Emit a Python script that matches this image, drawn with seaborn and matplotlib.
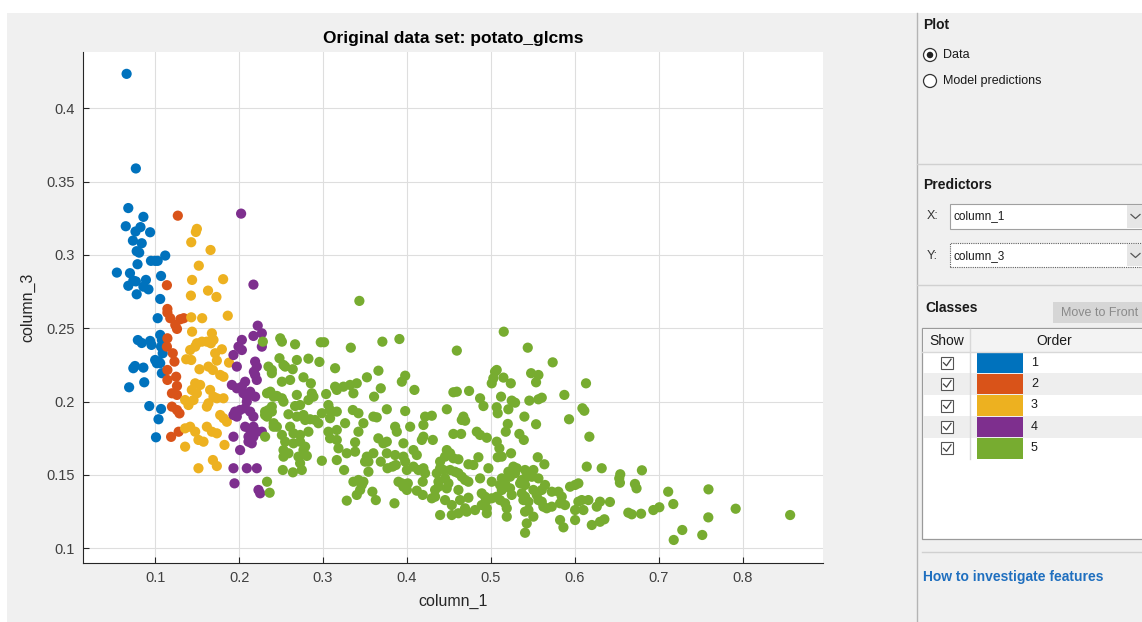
import matplotlib
matplotlib.use("Agg")
import matplotlib.pyplot as plt
from matplotlib.patches import Rectangle, Ellipse
from matplotlib.lines import Line2D
import seaborn as sns
import pandas as pd

# ---------------- data ----------------
class_labels = ["1", "2", "3", "4", "5"]
class_colors = ["#0072BD", "#D95319", "#EDB120", "#7E2F8E", "#77AC30"]

class1 = [(0.066,0.4235),(0.077,0.359),(0.068,0.332),(0.086,0.326),(0.065,0.3196),(0.0825,0.319),
          (0.0766,0.316),(0.094,0.3155),(0.0735,0.3098),(0.084,0.308),(0.078,0.3026),(0.081,0.3016),
          (0.112,0.2996),(0.095,0.296),(0.100,0.296),(0.103,0.296),(0.079,0.2937),(0.0544,0.288),
          (0.070,0.2876),(0.107,0.2857),(0.074,0.2825),(0.077,0.282),(0.089,0.283),(0.068,0.279),
          (0.086,0.2784),(0.092,0.2766),(0.078,0.2732),(0.106,0.270),(0.103,0.2569),(0.0794,0.242),
          (0.084,0.240),(0.094,0.2414),(0.0956,0.2387),(0.106,0.2455),(0.108,0.242),(0.107,0.2375),
          (0.109,0.233),(0.100,0.2284),(0.104,0.2273),(0.106,0.2262),(0.102,0.2262),(0.074,0.2228),
          (0.076,0.2243),(0.086,0.2232),(0.108,0.2194),(0.087,0.2132),(0.069,0.2098),(0.093,0.197),
          (0.107,0.195),(0.104,0.188),(0.101,0.1757)]

class2 = [(0.127,0.3268),(0.114,0.2794),(0.1146,0.2632),(0.1146,0.2607),(0.118,0.2569),(0.124,0.2523),
          (0.126,0.2496),(0.130,0.2562),(0.134,0.2569),(0.1146,0.2432),(0.114,0.2375),(0.121,0.233),
          (0.123,0.2273),(0.1146,0.2216),(0.125,0.217),(0.1146,0.2148),(0.126,0.2107),(0.120,0.2057),
          (0.126,0.2046),(0.120,0.1966),(0.126,0.1943),(0.129,0.192),(0.119,0.176),(0.128,0.1795)]

class3 = [(0.1497,0.3178),(0.1485,0.3157),(0.143,0.3087),(0.166,0.3034),(0.152,0.2927),(0.144,0.283),
          (0.181,0.2835),(0.163,0.2757),(0.1426,0.2723),(0.173,0.2714),(0.143,0.2575),(0.156,0.2569),
          (0.1865,0.2586),(0.144,0.2477),(0.1676,0.2466),(0.1497,0.2398),(0.1557,0.2409),(0.1616,0.2409),
          (0.1664,0.2398),(0.1695,0.2421),(0.1417,0.2352),(0.1477,0.2375),(0.1795,0.2357),(0.1715,0.233),
          (0.137,0.2289),(0.143,0.2284),(0.1735,0.228),(0.188,0.2266),(0.1635,0.2239),(0.1688,0.2216),
          (0.1528,0.2221),(0.1775,0.2182),(0.1814,0.217),(0.1477,0.2125),(0.1536,0.2114),(0.1655,0.208),
          (0.1695,0.2034),(0.1735,0.2023),(0.1437,0.208),(0.1497,0.2057),(0.1357,0.2011),(0.1397,0.1977),
          (0.1457,0.2011),(0.1635,0.1989),(0.1616,0.1966),(0.1814,0.2023),(0.1775,0.1909),(0.1814,0.1887),
          (0.1854,0.1863),(0.1357,0.1818),(0.1417,0.1829),(0.1477,0.1795),(0.1616,0.1829),(0.1676,0.1795),
          (0.1735,0.1784),(0.1516,0.1739),(0.1576,0.1727),(0.1357,0.1693),(0.1826,0.1705),(0.1688,0.1602),
          (0.1516,0.1546),(0.1735,0.1561)]

class4 = [(0.2024,0.3282),(0.2171,0.2798),(0.2222,0.2518),(0.2171,0.2448),(0.2271,0.2466),(0.2033,0.2421),
          (0.1993,0.2375),(0.2033,0.2352),(0.2271,0.2375),(0.1933,0.2318),(0.2191,0.2273),(0.2211,0.2239),
          (0.1973,0.2239),(0.2176,0.2204),(0.2191,0.2182),(0.2211,0.2148),(0.1914,0.2114),(0.1973,0.2091),
          (0.2033,0.2102),(0.2072,0.2136),(0.2052,0.2057),(0.2092,0.2034),(0.2132,0.2068),(0.2191,0.2034),
          (0.1953,0.1932),(0.2012,0.1943),(0.2072,0.1955),(0.1933,0.1909),(0.1973,0.1898),(0.2132,0.1932),
          (0.2171,0.1898),(0.2092,0.2000),(0.2072,0.1829),(0.2132,0.1807),(0.2171,0.1829),(0.2211,0.1795),
          (0.2271,0.1795),(0.2112,0.1761),(0.2171,0.1761),(0.1933,0.1761),(0.2112,0.1727),(0.2012,0.1670),
          (0.1933,0.1546),(0.2092,0.1546),(0.2211,0.1546),(0.1945,0.1443),(0.2231,0.1398),(0.2251,0.1375),
          (0.2151,0.1716)]

class5 = [(0.2283,0.2409),(0.235,0.2239),(0.239,0.2216),(0.2333,0.2057),(0.2373,0.2068),(0.2412,0.2034),
          (0.239,0.1966),(0.235,0.1943),(0.231,0.1909),(0.2412,0.1829),(0.231,0.1761),(0.2333,0.1454),
          (0.2364,0.1379),
          (0.3433,0.2687),(0.249,0.2432),(0.251,0.2409),(0.2667,0.2391),(0.2973,0.2405),(0.3013,0.2405),
          (0.3331,0.2368),(0.3707,0.2409),(0.391,0.2427),(0.2481,0.2296),(0.2529,0.225),(0.2549,0.2239),
          (0.2688,0.2284),(0.2826,0.2293),(0.2957,0.2271),(0.2639,0.2221),(0.239,0.2194),(0.3144,0.2228),
          (0.366,0.2211),(0.2767,0.2166),(0.251,0.2136),(0.2608,0.2148),(0.3523,0.2166),(0.3979,0.2177),
          (0.3939,0.2136),(0.2855,0.2125),(0.3144,0.2102),(0.3164,0.208),(0.3243,0.2102),(0.3322,0.2114),
          (0.3402,0.2125),(0.3688,0.2091),(0.4089,0.208),(0.245,0.2039),(0.251,0.2023),(0.2529,0.200),
          (0.2688,0.2046),(0.2867,0.2057),(0.2886,0.2034),(0.2826,0.2011),(0.3037,0.2052),(0.3362,0.2057),
          (0.3608,0.2034),(0.231,0.1932),(0.239,0.1932),(0.2667,0.197),(0.2727,0.1977),(0.3064,0.1977),
          (0.3084,0.1943),(0.3164,0.1932),(0.3355,0.1943),(0.3422,0.1921),(0.376,0.1948),(0.3979,0.1936),
          (0.2333,0.1898),(0.2412,0.1853),(0.245,0.1829),(0.2588,0.1914),(0.2688,0.1898),(0.2767,0.1909),
          (0.2787,0.1875),(0.2846,0.188),(0.2906,0.1875),(0.2945,0.1853),(0.2986,0.1921),(0.3084,0.1887),
          (0.3263,0.1853),(0.3481,0.1853),(0.36,0.1898),(0.364,0.1893),(0.4216,0.1898),(0.4196,0.1841),
          (0.2608,0.1829),(0.2648,0.1784),(0.2727,0.1773),(0.2826,0.1795),(0.3064,0.1795),(0.3164,0.1807),
          (0.3422,0.1795),(0.3859,0.1829),(0.3879,0.1795),(0.4038,0.1829),(0.251,0.1773),(0.3084,0.175),
          (0.3164,0.1739),(0.3659,0.175),(0.3719,0.1716),(0.376,0.1727),(0.4196,0.1761),(0.4177,0.1739),
          (0.3958,0.1716),(0.2549,0.1727),(0.2648,0.1716),(0.2727,0.1727),(0.2787,0.1693),(0.3382,0.1723),
          (0.2529,0.167),(0.2588,0.1648),(0.2767,0.167),(0.3184,0.1682),(0.3283,0.1648),(0.3382,0.1659),
          (0.36,0.1648),(0.376,0.1648),(0.4077,0.167),(0.2529,0.1625),(0.2707,0.1625),(0.2807,0.163),
          (0.3522,0.1625),(0.3859,0.1636),(0.3958,0.1625),(0.4117,0.1636),
          (0.2727,0.158),(0.2747,0.1534),(0.2521,0.1534),(0.2641,0.1518),(0.2986,0.1597),(0.3164,0.1602),
          (0.3501,0.1591),(0.3541,0.1591),(0.3251,0.1534),(0.3541,0.1522),(0.3362,0.1454),(0.3422,0.1466),
          (0.3462,0.1432),(0.3481,0.1454),(0.3442,0.1398),(0.3402,0.1364),(0.3588,0.1386),(0.3629,0.1329),
          (0.3283,0.1325),(0.3688,0.1591),(0.3768,0.1546),(0.3828,0.1557),(0.3867,0.1568),(0.3979,0.1591),
          (0.3999,0.1534),(0.3899,0.1454),(0.3939,0.1443),(0.3958,0.142),(0.3999,0.1398),(0.4077,0.1557),
          (0.4136,0.1534),(0.4196,0.1546),(0.4216,0.1512),(0.401,0.1443),(0.4117,0.1393),(0.4188,0.1364),
          (0.3851,0.1307),(0.4188,0.1454),
          (0.5153,0.2477),(0.4594,0.2348),(0.5439,0.2368),(0.5736,0.2268),(0.5049,0.2204),(0.5069,0.2216),
          (0.5029,0.2159),(0.501,0.2125),(0.5149,0.2164),(0.5237,0.2125),(0.5479,0.2194),(0.5566,0.2182),
          (0.5538,0.2132),(0.6133,0.2125),(0.4553,0.2064),(0.4594,0.2068),(0.474,0.2073),(0.4871,0.2023),
          (0.4911,0.197),(0.5121,0.2034),(0.5248,0.2007),(0.5288,0.1993),(0.5458,0.2007),(0.5566,0.2016),
          (0.5606,0.2027),(0.5875,0.2046),(0.609,0.1955),(0.6113,0.1938),(0.4475,0.1948),(0.5069,0.1962),
          (0.5081,0.1921),(0.5208,0.1948),(0.5399,0.1898),(0.5931,0.188),(0.4296,0.1904),(0.4672,0.1898),
          (0.4693,0.187),(0.4653,0.1875),(0.5201,0.1848),(0.5538,0.1846),(0.4553,0.178),(0.4645,0.178),
          (0.4832,0.1795),(0.4871,0.1773),(0.4951,0.1754),(0.5177,0.1795),(0.5339,0.178),(0.6173,0.1761),
          (0.4308,0.1739),(0.5392,0.1739),
          (0.507,0.1727),(0.5101,0.1682),(0.524,0.1648),(0.4475,0.167),(0.4514,0.1648),(0.4454,0.1625),
          (0.4553,0.1614),(0.4613,0.1607),(0.4395,0.1591),(0.4395,0.1546),(0.4434,0.1534),(0.4851,0.1621),
          (0.5081,0.1621),(0.5129,0.1625),(0.4732,0.1573),(0.4791,0.1568),(0.5558,0.1621),(0.5637,0.1573),
          (0.497,0.1546),(0.6142,0.1557),(0.632,0.1546),(0.5208,0.1522),(0.5268,0.1557),(0.5308,0.1546),
          (0.5288,0.1512),(0.5228,0.1488),(0.5407,0.1534),(0.5447,0.1512),(0.5506,0.1534),(0.5487,0.1488),
          (0.5407,0.1477),(0.5368,0.1466),(0.5348,0.1443),(0.5407,0.1432),(0.5566,0.1477),(0.4514,0.1534),
          (0.4573,0.1522),(0.4613,0.1512),(0.4653,0.1488),(0.4692,0.1466),(0.4732,0.1454),(0.4355,0.1512),
          (0.4375,0.1454),(0.4454,0.1477),(0.4494,0.1443),(0.4375,0.142),(0.4474,0.1409),(0.4335,0.1398),
          (0.4335,0.1352),(0.4296,0.1341),(0.4613,0.1398),(0.4633,0.1329),(0.4534,0.1295),(0.4454,0.1329),
          (0.4871,0.1477),(0.501,0.1454),(0.513,0.1477),(0.5109,0.1432),(0.5169,0.1443),(0.5228,0.1409),
          (0.5248,0.1364),(0.513,0.1398),(0.5645,0.1432),(0.5606,0.1398),(0.5368,0.1375),(0.5407,0.1352),
          (0.5387,0.1329),(0.5447,0.1318),(0.5506,0.1398),(0.5546,0.1364),(0.5566,0.1329),(0.5606,0.1318),
          (0.5725,0.1386),(0.5804,0.1386),(0.5844,0.1352),(0.5824,0.1307),(0.5943,0.142),(0.6003,0.1432),
          (0.6042,0.1443),(0.4891,0.1375),(0.4931,0.1352),(0.4951,0.1329),(0.501,0.1341),(0.507,0.1352),
          (0.5109,0.1329),(0.5169,0.1307),(0.5189,0.1273),(0.4732,0.1345),(0.4891,0.1295),(0.4951,0.1273),
          (0.4811,0.1261),(0.4692,0.1273),(0.4712,0.125),(0.4613,0.1239),(0.4534,0.1227),(0.4395,0.1227),
          (0.4951,0.1239),(0.5189,0.1216),(0.5407,0.125),(0.5447,0.1261),(0.5506,0.1216),(0.5625,0.1284),
          (0.5665,0.1273),(0.5725,0.1284),(0.5883,0.1295),(0.6042,0.1318),(0.6082,0.1329),(0.6161,0.1329),
          (0.6003,0.1261),(0.6102,0.1261),(0.630,0.1318),(0.6261,0.1284),(0.5427,0.117),(0.5407,0.1106),
          (0.5824,0.1193),(0.5864,0.1143),(0.6003,0.1193),(0.6202,0.1159),(0.630,0.1181),
          (0.6541,0.1505),(0.6529,0.1477),(0.6537,0.1447),(0.6799,0.1532),(0.6716,0.1439),(0.6735,0.1409),
          (0.7112,0.1386),(0.7592,0.1402),(0.6418,0.1316),(0.6352,0.1198),(0.6637,0.1243),(0.6678,0.1232),
          (0.6789,0.1236),(0.6935,0.1261),(0.7007,0.128),(0.7173,0.1302),(0.759,0.1211),(0.7916,0.127),
          (0.8565,0.1227),(0.728,0.1125),(0.7178,0.1057),(0.7518,0.1091)]

x_ticks = [0.1, 0.2, 0.3, 0.4, 0.5, 0.6, 0.7, 0.8]
y_ticks = [0.1, 0.15, 0.2, 0.25, 0.3, 0.35, 0.4]
x_tick_labels = ["0.1", "0.2", "0.3", "0.4", "0.5", "0.6", "0.7", "0.8"]
y_tick_labels = ["0.1", "0.15", "0.2", "0.25", "0.3", "0.35", "0.4"]
title_text = "Original data set: potato_glcms"
x_label = "column_1"
y_label = "column_3"

# ---------------- build table ----------------
rows = []
for lab, pts in zip(class_labels, [class1, class2, class3, class4, class5]):
    for (xv, yv) in pts:
        rows.append({"column_1": xv, "column_3": yv, "cls": lab})
df = pd.DataFrame(rows)
palette = dict(zip(class_labels, class_colors))

# ---------------- figure ----------------
plt.rcParams['font.family'] = ['Liberation Sans', 'DejaVu Sans']
W, H = 1142, 622
fig = plt.figure(figsize=(W / 100, H / 100), dpi=100, facecolor="white")

def fx(px):
    return px / W

def fy(py):
    return 1 - py / H

PANEL_BG = "#f0f0f0"
fig.add_artist(Rectangle((fx(7), 0), 1 - fx(7), fy(13), transform=fig.transFigure,
                         facecolor=PANEL_BG, edgecolor="none", zorder=-10))

ax = fig.add_axes([fx(83.3), fy(562.7), (823.3 - 83.3) / W, (562.7 - 51.7) / H])
ax.set_facecolor("white")
ax.set_axisbelow(True)
ax.grid(True, color="#dedede", linewidth=0.8)

sns.scatterplot(data=df, x="column_1", y="column_3", hue="cls", palette=palette,
                hue_order=class_labels, s=54, linewidth=0, edgecolor="none",
                legend=False, ax=ax, zorder=3)

ax.set_xlim(0.0144, 0.896)
ax.set_ylim(0.0902, 0.4386)
ax.set_xticks(x_ticks)
ax.set_xticklabels(x_tick_labels)
ax.set_yticks(y_ticks)
ax.set_yticklabels(y_tick_labels)
for side in ["top", "right"]:
    ax.spines[side].set_visible(False)
for side in ["left", "bottom"]:
    ax.spines[side].set_color("#262626")
    ax.spines[side].set_linewidth(0.8)
ax.tick_params(direction="in", length=4, width=0.8, colors="#262626",
               labelsize=10.5, labelcolor="#404040", pad=6)
ax.set_xlabel(x_label, fontsize=11.5, color="#262626", labelpad=6)
ax.set_ylabel(y_label, fontsize=11.5, color="#262626", labelpad=8)
ax.set_title(title_text, fontsize=12.5, fontweight="bold", color="black", pad=6)

# ---------------- right side panel ----------------
def line(x0, y0, x1, y1, color="#c8c8c8", lw=1.0, ls="-"):
    fig.add_artist(Line2D([fx(x0), fx(x1)], [fy(y0), fy(y1)], transform=fig.transFigure,
                          color=color, linewidth=lw, linestyle=ls))

def rect(x0, y0, x1, y1, fc, ec="none", lw=0.8, ls="-"):
    fig.add_artist(Rectangle((fx(x0), fy(y1)), fx(x1) - fx(x0), fy(y0) - fy(y1),
                             transform=fig.transFigure, facecolor=fc, edgecolor=ec,
                             linewidth=lw, linestyle=ls))

def text(px, py, s, **kw):
    kw.setdefault("fontsize", 9)
    kw.setdefault("color", "#1a1a1a")
    kw.setdefault("va", "center")
    fig.text(fx(px), fy(py), s, **kw)

line(917, 13, 917, 622, color="#b4b4b4")

text(923, 25, "Plot", fontweight="bold", fontsize=10)
for cy, lab, sel in [(55, "Data", True), (81, "Model predictions", False)]:
    fig.add_artist(Ellipse((fx(930), fy(cy)), 13 / W, 13 / H, transform=fig.transFigure,
                           facecolor="white", edgecolor="#333333", linewidth=0.9))
    if sel:
        fig.add_artist(Ellipse((fx(930), fy(cy)), 6.5 / W, 6.5 / H, transform=fig.transFigure,
                               facecolor="#222222", edgecolor="none"))
    text(943, cy, lab)

line(917, 164, 1142, 164, color="#d0d0d0")
text(923, 185, "Predictors", fontweight="bold", fontsize=10)
text(927, 216, "X:", color="#333333")
rect(950, 204, 1150, 229, "white", ec="#a0a0a0")
rect(1127, 205, 1150, 228, "#e6e6e6")
text(953, 216.5, "column_1", fontsize=8.5)
text(927, 256, "Y:", color="#333333")
rect(950, 243, 1150, 267, "white", ec="#606060", lw=0.8, ls=(0, (1, 1)))
rect(1127, 244, 1150, 266, "#e6e6e6")
text(953, 256.5, "column_3", fontsize=8.5)
for cy in [216.5, 255.5]:
    fig.add_artist(Line2D([fx(1131), fx(1135.5), fx(1140)], [fy(cy - 2), fy(cy + 2), fy(cy - 2)],
                          transform=fig.transFigure, color="#555555", linewidth=0.9))

line(917, 285, 1142, 285, color="#d0d0d0")
text(925, 308, "Classes", fontweight="bold", fontsize=10)
rect(1053, 302, 1150, 323, "#d6d6d6")
text(1061, 313, "Move to Front", color="#8a8a8a")

# classes table
rect(922, 328, 1150, 539, "white", ec="#9a9a9a", lw=0.9)
rect(923, 329, 1150, 352, "#f3f3f3")
line(922, 352, 1142, 352, color="#d8d8d8")
text(947, 341, "Show", ha="center", fontsize=10)
text(1054, 341, "Order", ha="center", fontsize=10)
row_h = 21.4
for i, (lab, col) in enumerate(zip(class_labels, class_colors)):
    y0 = 352 + i * row_h
    y1 = y0 + row_h
    if i % 2 == 1:
        rect(923, y0, 1150, y1, "#eeeeee")
    cy = (y0 + y1) / 2
    rect(941, cy - 6, 953, cy + 6, "white", ec="#555555", lw=0.8)
    fig.add_artist(Line2D([fx(943.5), fx(946.5), fx(951)], [fy(cy), fy(cy + 3), fy(cy - 3.5)],
                          transform=fig.transFigure, color="#444444", linewidth=0.9))
    rect(977, y0 + 0.5, 1023, y1 - 0.5, col)
    text(1031, cy, lab, fontsize=9)
line(970, 329, 970, 459, color="#d8d8d8")

line(922, 552, 1142, 552, color="#d0d0d0")
text(923, 577, "How to investigate features", fontweight="bold", color="#1f6fbf", fontsize=10)

fig.savefig("out.png", dpi=100, facecolor=fig.get_facecolor())
